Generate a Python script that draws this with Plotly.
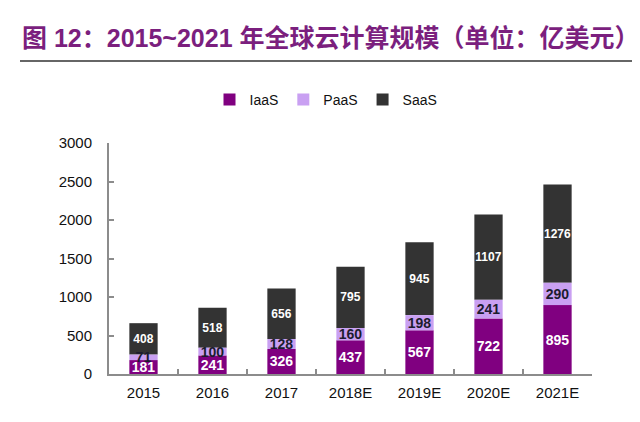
import plotly.graph_objects as go

years = ["2015", "2016", "2017", "2018E", "2019E", "2020E", "2021E"]
iaas = [181, 241, 326, 437, 567, 722, 895]
paas = [71, 100, 128, 160, 198, 241, 290]
saas = [408, 518, 656, 795, 945, 1107, 1276]

font_main = "Liberation Sans, Arial, Noto Sans CJK SC, sans-serif"

# the page body adds an 8px margin, so the figure is laid out 8px smaller
W, H = 632, 414
L, T, R, B = 101, 135, 48, 48
PW, PH = W - L - R, H - T - B

paas_base = iaas
saas_base = [i + p for i, p in zip(iaas, paas)]

fig = go.Figure()

fig.add_trace(go.Bar(
    name="IaaS", x=years, y=iaas, legendrank=1,
    marker=dict(color="#800080", line=dict(width=0)),
    text=iaas, textposition="inside", insidetextanchor="middle",
    constraintext="none", textangle=0,
    textfont=dict(color="white", size=14, family=font_main, weight="bold"),
))
fig.add_trace(go.Bar(
    name="SaaS", x=years, y=saas, base=saas_base, legendrank=3,
    marker=dict(color="#333333", line=dict(width=0)),
    text=saas, textposition="inside", insidetextanchor="middle",
    constraintext="none", textangle=0,
    textfont=dict(color="white", size=12, family=font_main, weight="bold"),
))
# PaaS last so its (overflowing) labels sit on top of the neighbours
fig.add_trace(go.Bar(
    name="PaaS", x=years, y=paas, base=paas_base, legendrank=2,
    marker=dict(color="#C9A0F2", line=dict(width=0)),
    text=paas, textposition="inside", insidetextanchor="middle",
    constraintext="none", textangle=0,
    textfont=dict(color="#1c1c2e", size=14, family=font_main, weight="bold"),
))

fig.update_layout(
    barmode="overlay",
    bargap=0.59,
    width=W, height=H,
    margin=dict(l=L, r=R, t=T, b=B, autoexpand=False),
    paper_bgcolor="white",
    plot_bgcolor="white",
    font=dict(family=font_main, color="#111111"),
    title=dict(
        text="图 12：2015~2021 年全球云计算规模（单位：亿美元）",
        x=14 / W, xanchor="left",
        y=1 - 30 / H, yanchor="middle", yref="container",
        font=dict(size=25, color="#7B1F7E", family=font_main, weight="bold"),
    ),
    legend=dict(
        orientation="h",
        xref="container", yref="container",
        x=318 / W, xanchor="center",
        y=1 - 92 / H, yanchor="middle",
        font=dict(size=14, color="#111111"),
        itemwidth=30,
    ),
    xaxis=dict(
        showline=True, linecolor="#8c8c8c", linewidth=2,
        ticks="inside", ticklen=5, tickcolor="#8c8c8c", tickwidth=1.5,
        tickson="boundaries",
        tickfont=dict(size=15, color="#111111"),
        showgrid=False, automargin=False,
        ticklabelstandoff=4,
    ),
    yaxis=dict(
        range=[0, 3000], dtick=500,
        showline=True, linecolor="#8c8c8c", linewidth=2,
        ticks="inside", ticklen=5, tickcolor="#8c8c8c", tickwidth=1.5,
        tickfont=dict(size=15, color="#111111"),
        showgrid=False, zeroline=False, automargin=False,
        ticklabelstandoff=12,
    ),
    shapes=[dict(
        type="line", xref="paper", yref="paper",
        x0=(12 - L) / PW, x1=(628 - L) / PW,
        y0=(H - B - 53) / PH, y1=(H - B - 53) / PH,
        line=dict(color="#333333", width=1.5),
    )],
)

fig.write_html("out.html")
